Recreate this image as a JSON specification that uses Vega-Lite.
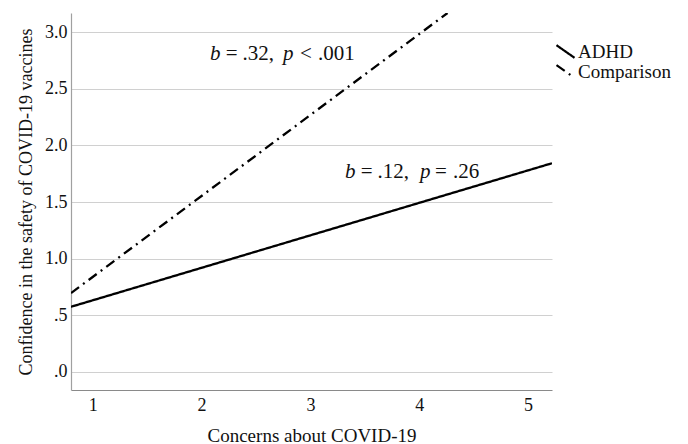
{
  "$schema": "https://vega.github.io/schema/vega-lite/v6.json",
  "width": 481,
  "height": 377,
  "autosize": "none",
  "padding": {"left": 71, "top": 13, "right": 136, "bottom": 54},
  "background": "white",
  "config": {
    "font": "Liberation Serif",
    "view": {"stroke": null},
    "axis": {"labelColor": "#111", "titleColor": "#111", "labelFont": "Liberation Serif", "titleFont": "Liberation Serif", "titleFontWeight": "normal"}
  },
  "datasets": {
    "lines": [
      {"group": "ADHD", "x": 0.8, "y": 0.575},
      {"group": "ADHD", "x": 5.22, "y": 1.843},
      {"group": "Comparison", "x": 0.8, "y": 0.696},
      {"group": "Comparison", "x": 4.26, "y": 3.17}
    ],
    "italic": [
      {"x": 2.077, "y": 2.81, "t": "b"},
      {"x": 2.748, "y": 2.81, "t": "p"},
      {"x": 3.318, "y": 1.765, "t": "b"},
      {"x": 4.007, "y": 1.765, "t": "p"}
    ],
    "roman": [
      {"x": 2.222, "y": 2.81, "t": "="},
      {"x": 2.375, "y": 2.81, "t": ".32,"},
      {"x": 2.904, "y": 2.81, "t": "<"},
      {"x": 3.07, "y": 2.81, "t": ".001"},
      {"x": 3.463, "y": 1.765, "t": "="},
      {"x": 3.616, "y": 1.765, "t": ".12,"},
      {"x": 4.145, "y": 1.765, "t": "="},
      {"x": 4.31, "y": 1.765, "t": ".26"}
    ]
  },
  "layer": [
    {
      "data": {"name": "lines"},
      "mark": {"type": "line", "strokeWidth": 2.3, "color": "black", "clip": true},
      "encoding": {
        "x": {
          "field": "x", "type": "quantitative",
          "scale": {"domain": [0.8, 5.22], "nice": false, "zero": false},
          "axis": {
            "values": [1, 2, 3, 4, 5], "format": "d", "grid": false, "ticks": false, "tickSize": 0,
            "domainColor": "#8a8a8a", "domainWidth": 1.2,
            "labelFontSize": 18, "labelPadding": 6,
            "title": "Concerns about COVID-19", "titleFontSize": 19, "titlePadding": 12
          }
        },
        "y": {
          "field": "y", "type": "quantitative",
          "scale": {"domain": [-0.16, 3.17], "nice": false, "zero": false},
          "axis": {
            "values": [0, 0.5, 1, 1.5, 2, 2.5, 3], "grid": true, "gridColor": "#d0d0d0", "gridWidth": 1,
            "ticks": false, "tickSize": 0,
            "domainColor": "#a0a0a0", "domainWidth": 1.2,
            "labelFontSize": 18, "labelPadding": 4,
            "labelExpr": "datum.value < 1 ? slice(format(datum.value, '.1f'), 1) : format(datum.value, '.1f')",
            "title": "Confidence in the safety of COVID-19 vaccines", "titleFontSize": 18, "titlePadding": 9
          }
        },
        "detail": {"field": "group"},
        "strokeDash": {
          "field": "group", "type": "nominal",
          "scale": {"domain": ["ADHD", "Comparison"], "range": [[1, 0], [10, 5, 2, 5]]},
          "legend": {
            "title": null, "orient": "none", "legendX": 484, "legendY": 29,
            "symbolType": "M-1,-0.7L1,0.7", "symbolSize": 324, "symbolStrokeColor": "black",
            "symbolStrokeWidth": 2.2, "symbolFillColor": "transparent",
            "labelFont": "Liberation Serif", "labelFontSize": 19, "labelColor": "#111",
            "labelOffset": 2, "rowPadding": 0, "clipHeight": 19
          }
        }
      }
    },
    {
      "data": {"name": "italic"},
      "mark": {"type": "text", "align": "left", "baseline": "middle", "font": "Liberation Serif", "fontStyle": "italic", "fontSize": 21, "color": "#111"},
      "encoding": {
        "x": {"field": "x", "type": "quantitative"},
        "y": {"field": "y", "type": "quantitative"},
        "text": {"field": "t"}
      }
    },
    {
      "data": {"name": "roman"},
      "mark": {"type": "text", "align": "left", "baseline": "middle", "font": "Liberation Serif", "fontSize": 21, "color": "#111"},
      "encoding": {
        "x": {"field": "x", "type": "quantitative"},
        "y": {"field": "y", "type": "quantitative"},
        "text": {"field": "t"}
      }
    }
  ]
}
